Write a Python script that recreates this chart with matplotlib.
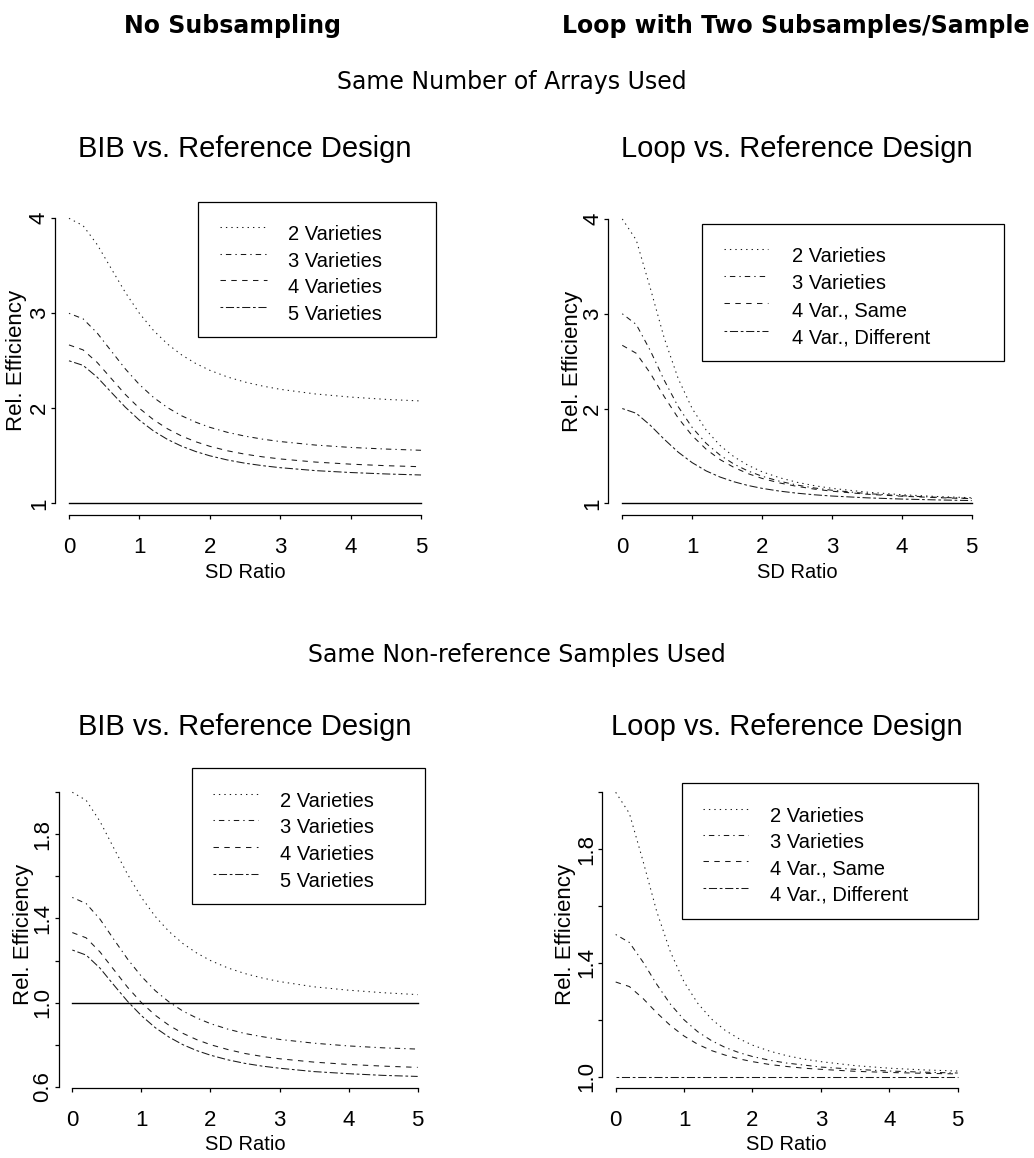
import matplotlib.pyplot as plt
from matplotlib.lines import Line2D
from matplotlib.patches import Rectangle

# ---- data -------------------------------------------------------------
sd_ratio = [0, 0.2, 0.4, 0.6, 0.8, 1.0, 1.2, 1.4, 1.6, 1.8, 2.0,
            2.25, 2.5, 2.75, 3.0, 3.5, 4.0, 4.5, 5.0]

# same number of arrays, BIB vs reference
arr_bib_2v = [4.000, 3.923, 3.724, 3.471, 3.220, 3.000, 2.820, 2.676, 2.562, 2.472,
              2.400, 2.330, 2.276, 2.234, 2.200, 2.151, 2.118, 2.094, 2.077]
arr_bib_3v = [3.000, 2.942, 2.793, 2.603, 2.415, 2.250, 2.115, 2.007, 1.921, 1.854,
              1.800, 1.747, 1.707, 1.675, 1.650, 1.613, 1.588, 1.571, 1.558]
arr_bib_4v = [2.667, 2.615, 2.483, 2.314, 2.146, 2.000, 1.880, 1.784, 1.708, 1.648,
              1.600, 1.553, 1.517, 1.489, 1.467, 1.434, 1.412, 1.396, 1.385]
arr_bib_5v = [2.500, 2.452, 2.328, 2.169, 2.012, 1.875, 1.762, 1.672, 1.601, 1.545,
              1.500, 1.456, 1.422, 1.396, 1.375, 1.344, 1.324, 1.309, 1.298]

# same number of arrays, loop (two subsamples/sample) vs reference
arr_loop_2v = [4.000, 3.778, 3.273, 2.744, 2.316, 2.000, 1.773, 1.610, 1.490, 1.401,
               1.333, 1.270, 1.222, 1.186, 1.158, 1.118, 1.091, 1.072, 1.059]
arr_loop_3v = [3.000, 2.887, 2.613, 2.299, 2.020, 1.800, 1.633, 1.508, 1.413, 1.341,
               1.286, 1.233, 1.193, 1.162, 1.138, 1.103, 1.080, 1.064, 1.052]
arr_loop_4same = [2.667, 2.583, 2.374, 2.126, 1.900, 1.714, 1.571, 1.461, 1.378, 1.313,
                  1.263, 1.215, 1.179, 1.150, 1.128, 1.096, 1.075, 1.060, 1.049]
arr_loop_4diff = [2.000, 1.950, 1.824, 1.676, 1.540, 1.429, 1.342, 1.277, 1.227, 1.188,
                  1.158, 1.129, 1.107, 1.090, 1.077, 1.058, 1.045, 1.036, 1.029]

# same non-reference samples, BIB vs reference
smp_bib_2v = [2.000, 1.962, 1.862, 1.735, 1.610, 1.500, 1.410, 1.338, 1.281, 1.236,
              1.200, 1.165, 1.138, 1.117, 1.100, 1.075, 1.059, 1.047, 1.038]
smp_bib_3v = [1.500, 1.471, 1.397, 1.301, 1.207, 1.125, 1.057, 1.003, 0.960, 0.927,
              0.900, 0.874, 0.853, 0.838, 0.825, 0.807, 0.794, 0.785, 0.779]
smp_bib_4v = [1.333, 1.308, 1.241, 1.157, 1.073, 1.000, 0.940, 0.892, 0.854, 0.824,
              0.800, 0.777, 0.758, 0.744, 0.733, 0.717, 0.706, 0.698, 0.692]
smp_bib_5v = [1.250, 1.226, 1.164, 1.084, 1.006, 0.938, 0.881, 0.836, 0.800, 0.772,
              0.750, 0.728, 0.711, 0.698, 0.688, 0.672, 0.662, 0.654, 0.649]

# same non-reference samples, loop vs reference
smp_loop_2v = [2.000, 1.926, 1.758, 1.581, 1.439, 1.333, 1.258, 1.203, 1.163, 1.134,
               1.111, 1.090, 1.074, 1.062, 1.053, 1.039, 1.030, 1.024, 1.020]
smp_loop_3v = [1.500, 1.472, 1.403, 1.325, 1.255, 1.200, 1.158, 1.127, 1.103, 1.085,
               1.071, 1.058, 1.048, 1.041, 1.034, 1.026, 1.020, 1.016, 1.013]
smp_loop_4same = [1.333, 1.317, 1.275, 1.225, 1.180, 1.143, 1.114, 1.092, 1.076, 1.063,
                  1.053, 1.043, 1.036, 1.030, 1.026, 1.019, 1.015, 1.012, 1.010]
smp_loop_4diff = [1.000] * len(sd_ratio)

bib_labels = ['2 Varieties', '3 Varieties', '4 Varieties', '5 Varieties']
loop_labels = ['2 Varieties', '3 Varieties', '4 Var., Same', '4 Var., Different']

x_ticks = [0, 1, 2, 3, 4, 5]
y_ticks_arr = [1, 2, 3, 4]
y_ticks_bib_smp = [0.6, 0.8, 1.0, 1.2, 1.4, 1.6, 1.8, 2.0]
y_ticks_loop_smp = [1.0, 1.2, 1.4, 1.6, 1.8, 2.0]

# ---- style ------------------------------------------------------------
W, H = 1034, 1158
SANS = ['Liberation Sans', 'DejaVu Sans']
HEAD = ['DejaVu Sans']
LW = 0.75
INK = '#1a1a1a'
# R line types: dotted, dotdash, dashed, twodash
STYLES = [(0, (1.3, 3.9)), (0, (1.3, 3.9, 5.2, 3.9)), (0, (5.2, 5.2)),
          (0, (2.6, 2.6, 7.8, 2.6))]

fig = plt.figure(figsize=(W / 100, H / 100), dpi=100)


def fx(x):
    return x / W


def fy(y):
    return 1 - y / H


def panel(box, curves, labels, yticks, ylabels, ref_line, title, title_base,
          ylab_x, xlab_y, key):
    l, t, r, b = box
    ax = fig.add_axes([fx(l), fy(b), (r - l) / W, (b - t) / H])
    ax.patch.set_alpha(0)

    for vals, ls in zip(curves, STYLES):
        ax.plot(sd_ratio, vals, color=INK, lw=LW, linestyle=ls)
    if ref_line:
        ax.plot([sd_ratio[0], sd_ratio[-1]], [1, 1], color='k', lw=1.0)

    # R style 4% axis extension around the data range
    x0, x1 = min(sd_ratio), max(sd_ratio)
    allv = [v for c in curves for v in c] + ([1] if ref_line else [])
    y0, y1 = min(allv), max(allv)
    ax.set_xlim(x0 - 0.04 * (x1 - x0), x1 + 0.04 * (x1 - x0))
    ax.set_ylim(y0 - 0.04 * (y1 - y0), y1 + 0.04 * (y1 - y0))

    for s in ('top', 'right'):
        ax.spines[s].set_visible(False)
    ax.spines['bottom'].set_bounds(x_ticks[0], x_ticks[-1])
    ax.spines['left'].set_bounds(yticks[0], yticks[-1])
    for s in ('bottom', 'left'):
        ax.spines[s].set_linewidth(0.9)

    ax.set_xticks(x_ticks)
    ax.set_xticklabels([str(v) for v in x_ticks], family=SANS, fontsize=16)
    ax.set_yticks(yticks)
    ax.set_yticklabels(ylabels, family=SANS, fontsize=16, rotation=90,
                       va='center')
    ax.tick_params(axis='x', length=3.2, width=0.9, pad=12.5)
    ax.tick_params(axis='y', length=3.2, width=0.9, pad=0.5)

    cx = (l + r) / 2
    fig.text(fx(cx), fy(title_base), title, ha='center', va='baseline',
             family=SANS, fontsize=21)
    fig.text(fx(cx), fy(xlab_y), 'SD Ratio', ha='center', va='center',
             family=SANS, fontsize=14.5)
    fig.text(fx(ylab_x), fy((t + b) / 2), 'Rel. Efficiency', rotation=90,
             ha='center', va='center', family=SANS, fontsize=16)

    # legend box drawn the way R's legend() lays it out
    (kl, kt, kr, kb), (s0, s1), tx, cap0, step = key
    fig.add_artist(Rectangle((fx(kl), fy(kb)), (kr - kl) / W, (kb - kt) / H,
                             transform=fig.transFigure, fill=False,
                             ec='k', lw=0.9))
    for i, (lab, ls) in enumerate(zip(labels, STYLES)):
        cap = cap0 + i * step
        fig.add_artist(Line2D([fx(s0), fx(s1)], [fy(cap + 3.5)] * 2,
                              transform=fig.transFigure, color=INK, lw=LW,
                              linestyle=ls))
        fig.text(fx(tx), fy(cap + 16.7), lab, ha='left', va='baseline',
                 family=SANS, fontsize=14.5)
    return ax


lab_arr = [str(v) for v in y_ticks_arr]
lab_bib = ['0.6', '', '1.0', '', '1.4', '', '1.8', '']
lab_loop = ['1.0', '', '1.4', '', '1.8', '']

panel((54.9, 206.9, 435.1, 514.7),
      [arr_bib_2v, arr_bib_3v, arr_bib_4v, arr_bib_5v], bib_labels,
      y_ticks_arr, lab_arr, True, 'BIB vs. Reference Design', 157, 16.7, 572,
      ((197.7, 201.7, 435.6, 336.7), (220, 267), 288, 223.3, 26.7))

panel((608.3, 207.6, 985.7, 514.7),
      [arr_loop_2v, arr_loop_3v, arr_loop_4same, arr_loop_4diff], loop_labels,
      y_ticks_arr, lab_arr, True, 'Loop vs. Reference Design', 157, 572.5, 572,
      ((701.7, 224.3, 1004, 361), (724, 768.3), 791.7, 245, 27.4))

panel((58.5, 780.9, 431.5, 1087.8),
      [smp_bib_2v, smp_bib_3v, smp_bib_4v, smp_bib_5v], bib_labels,
      y_ticks_bib_smp, lab_bib, True, 'BIB vs. Reference Design', 735, 23, 1144,
      ((191.7, 768.3, 425, 904), (213, 258), 280, 790, 26.7))

panel((602, 780.9, 971.4, 1088.1),
      [smp_loop_2v, smp_loop_3v, smp_loop_4same, smp_loop_4diff], loop_labels,
      y_ticks_loop_smp, lab_loop, False, 'Loop vs. Reference Design', 735, 565.5,
      1144, ((681.7, 783.3, 978.3, 919), (702.7, 747.7), 770, 805, 26.4))

# column and row headings
fig.text(fx(232), fy(33), 'No Subsampling', ha='center', va='baseline',
         family=HEAD, fontsize=17, fontweight='bold')
fig.text(fx(1030), fy(33), 'Loop with Two Subsamples/Sample', ha='right',
         va='baseline', family=HEAD, fontsize=17, fontweight='bold')
fig.text(fx(512), fy(89), 'Same Number of Arrays Used', ha='center',
         va='baseline', family=HEAD, fontsize=17)
fig.text(fx(517), fy(662), 'Same Non-reference Samples Used', ha='center',
         va='baseline', family=HEAD, fontsize=17)

fig.savefig('out.png', dpi=100)
